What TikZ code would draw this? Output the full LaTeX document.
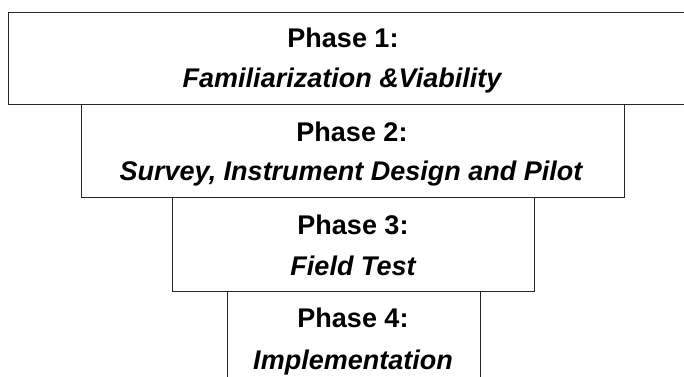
\documentclass[tikz,border=0pt]{standalone}
\usepackage{fontspec}
\setmainfont{Liberation Sans}
\usetikzlibrary{positioning}

\begin{document}
\begin{tikzpicture}[
    x=1pt, y=-1pt,
    phase/.style={rectangle, draw=black!85, fill=white, line width=1.3pt, anchor=north west, inner sep=0pt},
    head/.style={anchor=base, font=\fontsize{27}{32}\selectfont\bfseries},
    title/.style={anchor=base, font=\fontsize{27}{32}\selectfont\bfseries\itshape}
]
    \useasboundingbox (0,0) rectangle (684,376);
    \clip (0,0) rectangle (684,376);

    % Boxes
    \node[phase, minimum width=690pt, minimum height=92pt] (box1) at (8,12) {};
    \node[phase, minimum width=543pt, minimum height=93pt] (box2) at (81,104) {};
    \node[phase, minimum width=362pt, minimum height=94pt] (box3) at (172,197) {};
    \node[phase, minimum width=253pt, minimum height=100pt] (box4) at (227,291) {};

    % Labels
    \node[head] (head1) at (343,47) {Phase 1:};
    \node[title] (title1) at (342,87) {Familiarization \&Viability};
    \node[head] (head2) at (352,141) {Phase 2:};
    \node[title] (title2) at (351,180) {Survey, Instrument Design and Pilot};
    \node[head] (head3) at (353,234) {Phase 3:};
    \node[title] (title3) at (353,275) {Field Test};
    \node[head] (head4) at (353,327) {Phase 4:};
    \node[title] (title4) at (353,369) {Implementation};
\end{tikzpicture}
\end{document}
